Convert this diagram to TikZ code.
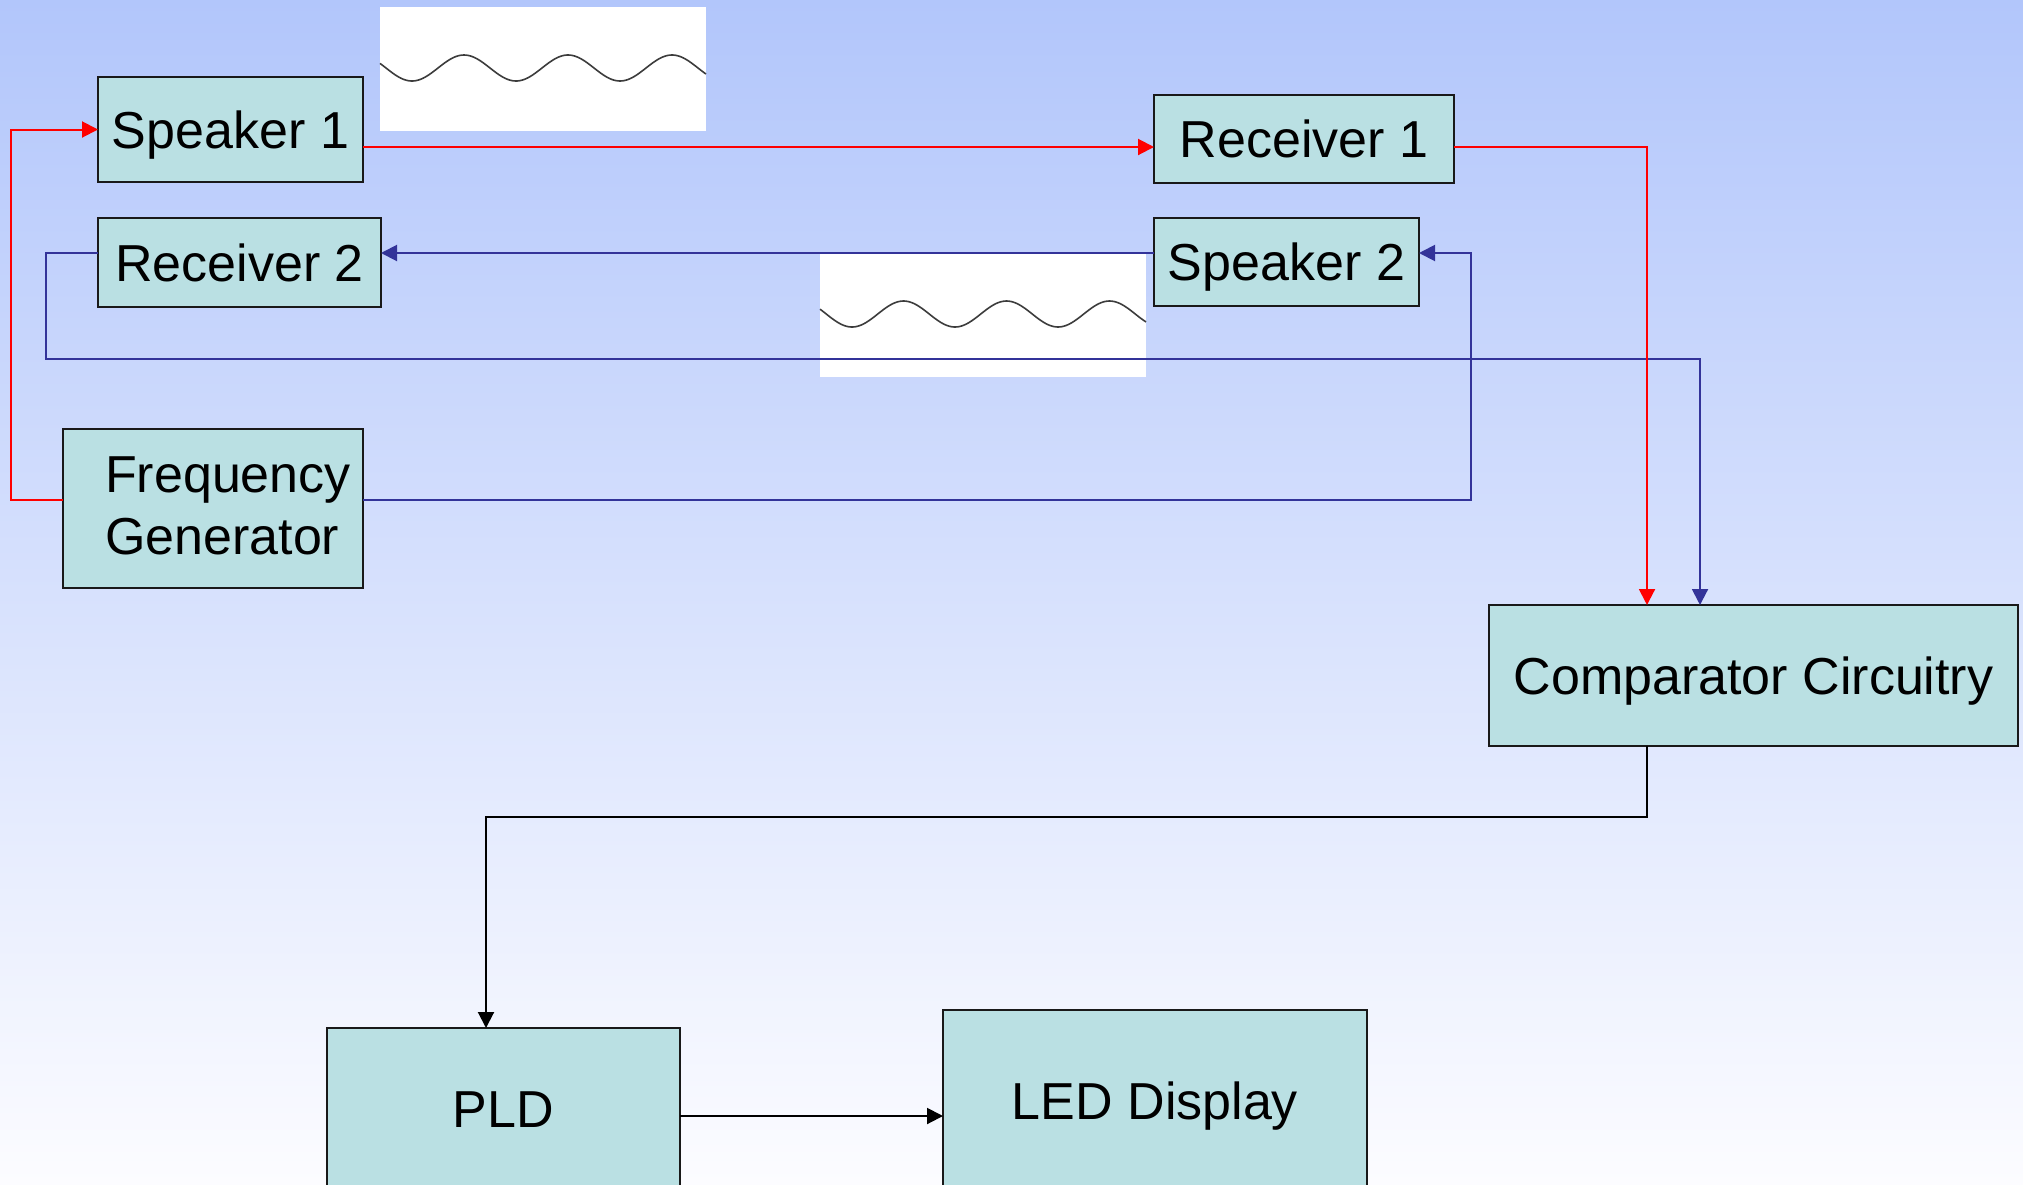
\documentclass[tikz,border=0pt]{standalone}
\usepackage{fontspec}
\setmainfont{Liberation Sans}
\usetikzlibrary{arrows.meta}
\definecolor{boxfill}{RGB}{186,224,227}
\definecolor{bluel}{RGB}{51,51,153}
\definecolor{redl}{RGB}{255,0,0}
\definecolor{bgtop}{RGB}{178,198,251}
\definecolor{bgbot}{RGB}{252,252,255}
\definecolor{wavec}{RGB}{60,60,60}
\definecolor{boxline}{RGB}{25,25,25}
\begin{document}
\begin{tikzpicture}[x=1pt,y=-1pt,
  blk/.style={draw=boxline, line width=2.5pt, fill=boxfill, inner sep=0pt, outer sep=0pt,
    font=\fontsize{52}{62}\selectfont, text=black, text height=37.5pt, text depth=0pt},
  conn/.style={line width=2pt, -{Triangle[length=16pt,width=16pt]}},
  wave/.style={draw=wavec, line width=1.6pt}]
\useasboundingbox (0,0) rectangle (2023,1184);
\clip (0,0) rectangle (2023,1184);
\shade[top color=bgtop, bottom color=bgbot] (0,0) rectangle (2023,1184);

% sound wave pictures
\fill[white] (380,7) rectangle (706,131);
\draw[wave] plot[domain=380:706, samples=160, smooth] (\x, {68+13*cos((\x-412)*3.4615)});
\fill[white] (820,254) rectangle (1146,377);
\draw[wave] plot[domain=820:1146, samples=160, smooth] (\x, {314+13*cos((\x-852)*3.4951)});

% blocks
\node[blk, minimum width=265pt, minimum height=105pt] (s1) at (230.5,129.5) {Speaker 1};
\node[blk, minimum width=300pt, minimum height=88pt] (r1) at (1304,139) {Receiver 1};
\node[blk, minimum width=283pt, minimum height=89pt] (r2) at (239.5,262.5) {Receiver 2};
\node[blk, minimum width=265pt, minimum height=88pt] (s2) at (1286.5,262) {Speaker 2};
\node[blk, minimum width=300pt, minimum height=159pt, align=left, text height=99.5pt, text depth=8.5pt] (fg) at (213,508.5)
  {\hspace*{30pt}Frequency\\\hspace*{30pt}Generator};
\node[blk, minimum width=529pt, minimum height=141pt] (comp) at (1753.5,675.5) {Comparator Circuitry};
\node[blk, minimum width=353pt, minimum height=162pt] (pld) at (503.5,1109) {PLD};
\node[blk, minimum width=424pt, minimum height=182pt] (led) at (1155,1101) {LED Display};

% routing coordinates
\coordinate (yA) at (0,147);
\coordinate (yB) at (0,253);
\coordinate (yC) at (0,500);
\coordinate (yD) at (0,359);
\coordinate (yE) at (0,817);
\coordinate (yF) at (0,1116);
\coordinate (xA) at (11,0);
\coordinate (xB) at (46,0);
\coordinate (xC) at (1471,0);
\coordinate (xD) at (1647,0);
\coordinate (xE) at (1700,0);
\coordinate (xF) at (486,0);

% blue connectors
\draw[conn, bluel] (fg.east |- yC) -| (xC |- yB) -- (s2.east |- yB);
\draw[conn, bluel] (s2.west |- yB) -- (r2.east |- yB);
\draw[conn, bluel] (r2.west |- yB) -| (xB |- yD) -| (comp.north -| xE);

% black connectors
\draw[conn, black] (comp.south -| xD) |- (xF |- yE) -- (pld.north -| xF);
\draw[conn, black] (pld.east |- yF) -- (led.west |- yF);

% red connectors
\draw[conn, redl] (fg.west |- yC) -| (xA |- s1.west) -- (s1.west);
\draw[conn, redl] (s1.east |- yA) -- (r1.west |- yA);
\draw[conn, redl] (r1.east |- yA) -| (comp.north -| xD);
\end{tikzpicture}
\end{document}
